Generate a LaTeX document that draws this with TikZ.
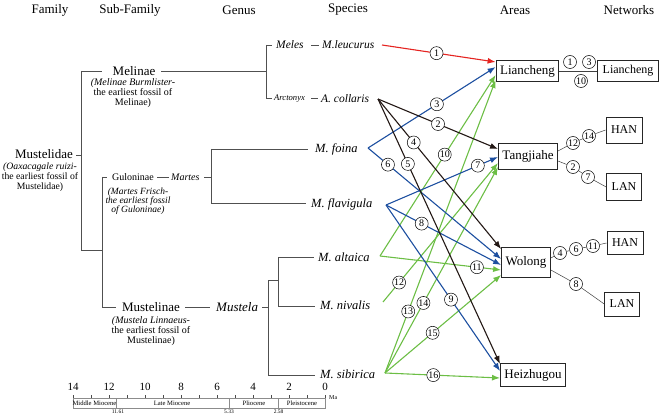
\documentclass[tikz,border=0pt]{standalone}
\usepackage{fontspec}
\setmainfont{Liberation Serif}
\usetikzlibrary{arrows.meta,calc}
\definecolor{cred}{HTML}{E52421}
\definecolor{cblue}{HTML}{1D4FA0}
\definecolor{cgreen}{HTML}{6CBE45}
\definecolor{cblack}{HTML}{231815}
\definecolor{treegray}{HTML}{505050}
\begin{document}
\begin{tikzpicture}[x=1pt,y=-1pt,
  hdr/.style={font=\fontsize{13}{15}\selectfont,inner sep=0pt},
  big/.style={font=\fontsize{13}{15}\selectfont,inner sep=0pt},
  subtxt/.style={font=\fontsize{10}{10.3}\selectfont,align=center,inner sep=0pt},
  gsub/.style={font=\fontsize{9.5}{8.8}\selectfont\itshape,align=center,inner sep=0pt},
  spc/.style={font=\fontsize{12.5}{14}\selectfont\itshape,anchor=west,inner sep=0pt},
  spm/.style={font=\fontsize{11.5}{13}\selectfont\itshape,anchor=west,inner sep=0pt},
  gen/.style={font=\fontsize{10}{12}\selectfont\itshape,anchor=west,inner sep=0pt},
  tree/.style={draw=treegray,line width=0.6pt},
  areabox/.style={draw=black!85,line width=0.9pt,font=\fontsize{13}{15}\selectfont,inner xsep=4pt,inner ysep=0pt},
  netbox/.style={draw=black!85,line width=0.9pt,font=\fontsize{12}{14}\selectfont,inner xsep=5pt,inner ysep=0pt},
  num/.style={circle,draw=black,line width=0.5pt,fill=white,inner sep=0pt,minimum size=13pt,font=\fontsize{10}{10}\selectfont},
  arr/.style={line width=1.1pt,-{Latex[length=8pt,width=6pt]}},
  net/.style={draw=black!75,line width=0.5pt},
  tnum/.style={font=\fontsize{11}{12}\selectfont,inner sep=0pt},
  per/.style={font=\fontsize{6.6}{7}\selectfont,inner sep=0pt},
  pnum/.style={font=\fontsize{5.5}{6}\selectfont,inner sep=0pt}
]
\useasboundingbox (0,0) rectangle (661,414);

% headers
\node[hdr] (hFam) at (50,10) {Family};
\node[hdr] (hSub) at (130,10) {Sub-Family};
\node[hdr] (hGen) at (239,10) {Genus};
\node[hdr] (hSpe) at (348,10) {Species};
\node[hdr] (hAre) at (515,10) {Areas};
\node[hdr] (hNet) at (629,10) {Networks};

% family
\node[big] (fam) at (44,154) {Mustelidae};
\node[font=\fontsize{9.7}{10}\selectfont,align=center,inner sep=0pt] (famsub) at (40,177.5) {\textit{(Oaxacagale ruizi-}\\the earliest fossil of\\Mustelidae)};
\coordinate (jFamTop) at (81,71);
\coordinate (jFamBot) at (81,250);
\draw[tree] (76,155) -- (81,155);
\draw[tree] (jFamTop) -- (jFamBot);

% Melinae
\node[big] (mel) at (134,71) {Melinae};
\node[subtxt] (melsub) at (133,93) {\textit{(Melinae Burmlister-}\\the earliest fossil of\\Melinae)};
\draw[tree] (jFamTop) -- (102,71);
\draw[tree] (161,71) -- (266,71);
\draw[tree] (266,45) -- (266,98);
\node[spm] (gMel) at (276,45) {Meles};
\node[spm] (spLeu) at (322,45) {M.leucurus};
\draw[tree] (266,45) -- (272,45);
\draw[tree] (311,45) -- (319,45);
\node[font=\fontsize{8.6}{10}\selectfont\itshape,anchor=west,inner sep=0pt] (gArc) at (274,99) {Arctonyx};
\node[spm] (spCol) at (321,99) {A. collaris};
\draw[tree] (266,98) -- (272,98);
\draw[tree] (311,98) -- (318,98);

% Guloninae
\coordinate (jGul) at (102,250);
\draw[tree] (jFamBot) -- (jGul);
\draw[tree] (102,177) -- (102,307);
\draw[tree] (102,177) -- (107,177);
\node[font=\fontsize{10}{12}\selectfont,anchor=west,inner sep=0pt] (gul) at (112,177) {Guloninae};
\node[gsub] (gulsub) at (138,201) {(Martes Frisch-\\the earliest fossil\\of Guloninae)};
\draw[tree] (157,177) -- (169,177);
\node[gen] (gMar) at (171,177) {Martes};
\draw[tree] (204,177) -- (211,177);
\draw[tree] (211,149) -- (211,203);
\draw[tree] (211,149) -- (308,149);
\draw[tree] (211,203) -- (306,203);
\node[spc] (spFoi) at (315,149) {M. foina};
\node[spc] (spFla) at (311,204) {M. flavigula};

% Mustelinae
\draw[tree] (102,307) -- (116,307);
\node[big] (mus) at (151,307) {Mustelinae};
\node[subtxt] (mussub) at (151,331) {\textit{(Mustela Linnaeus-}\\the earliest fossil of\\Mustelinae)};
\draw[tree] (185,307) -- (210,307);
\node[font=\fontsize{13}{15}\selectfont\itshape,anchor=west,inner sep=0pt] (gMus) at (216,307) {Mustela};
\draw[tree] (262,307) -- (268,307);
\draw[tree] (268,280) -- (268,375);
\draw[tree] (268,280) -- (278,280);
\draw[tree] (278,257) -- (278,306);
\draw[tree] (278,257) -- (314,257);
\draw[tree] (278,306) -- (315,306);
\draw[tree] (268,375) -- (315,375);
\node[spc] (spAlt) at (318,257) {M. altaica};
\node[spc] (spNiv) at (320,305) {M. nivalis};
\node[spc] (spSib) at (320,374) {M. sibirica};

% areas
\node[areabox,minimum height=21pt] (aLian) at (527.5,71) {Liancheng};
\node[areabox,minimum height=26pt] (aTang) at (528,156) {Tangjiahe};
\node[areabox,minimum height=30pt] (aWol) at (526,262) {Wolong};
\node[areabox,minimum height=23pt] (aHei) at (533,375) {Heizhugou};

% networks
\node[netbox,minimum height=21pt] (nLian) at (628,71) {Liancheng};
\node[netbox,minimum height=26pt] (nTH) at (624,130) {HAN};
\node[netbox,minimum height=27pt] (nTL) at (624,187) {LAN};
\node[netbox,minimum height=23pt] (nWH) at (625,243) {HAN};
\node[netbox,minimum height=24pt] (nWL) at (622,304) {LAN};

% species start points
\coordinate (sLeu) at (382,45);
\coordinate (sCol) at (378,99);
\coordinate (sFoi) at (368,148);
\coordinate (sFla) at (386,205);
\coordinate (sAlt) at (380,256);
\coordinate (sNiv) at (383,302);
\coordinate (sSib) at (385,373);

% connectors
\draw[arr,cred] (sLeu) -- coordinate[pos=0.48] (p1) ($(aLian.west)+(0,-9)$);
\draw[arr,cblue] (sFoi) -- coordinate[pos=0.54] (p3) ($(aLian.west)+(0,-4)$);
\draw[arr,cgreen] (sAlt) -- coordinate[pos=0.56] (p10) ($(aLian.west)+(0,4)$);
\draw[arr,cgreen] (sSib) -- coordinate[pos=0.21] (p13) ($(aLian.west)+(0,9)$);
\draw[arr,cblack] (sCol) -- coordinate[pos=0.5] (p2) ($(aTang.west)+(0,-7)$);
\draw[arr,cblue] (sFla) -- coordinate[pos=0.82] (p7) ($(aTang.west)+(0,1)$);
\draw[arr,cgreen] (sNiv) -- coordinate[pos=0.14] (p12) ($(aTang.west)+(0,7)$);
\draw[arr,cgreen] (sSib) -- coordinate[pos=0.34] (p14) ($(aTang.west)+(0,11)$);
\draw[arr,cblack] (sCol) -- coordinate[pos=0.29] (p4) ($(aWol.west)+(0,-13)$);
\draw[arr,cblue] (sFoi) -- coordinate[pos=0.15] (p6) ($(aWol.west)+(0,-3)$);
\draw[arr,cblue] (sFla) -- coordinate[pos=0.31] (p8) ($(aWol.west)+(0,3)$);
\draw[arr,cgreen] (sAlt) -- coordinate[pos=0.80] (p11) ($(aWol.west)+(0,8)$);
\draw[arr,cgreen] (sSib) -- coordinate[pos=0.41] (p15) ($(aWol.west)+(0,13)$);
\draw[arr,cblack] (sCol) -- coordinate[pos=0.245] (p5) ($(aHei.west)+(0,-11)$);
\draw[arr,cblue] (sFla) -- coordinate[pos=0.57] (p9) ($(aHei.west)+(0,-4)$);
\draw[arr,cgreen] (sSib) -- coordinate[pos=0.42] (p16) ($(aHei.west)+(0,3)$);

\foreach \p/\l in {p1/1,p2/2,p3/3,p4/4,p5/5,p6/6,p7/7,p8/8,p9/9,p10/10,p11/11,p12/12,p13/13,p14/14,p15/15,p16/16}
  \node[num] (c\p) at (\p) {\l};

% network links
\draw[net] (aLian.east) -- (nLian.west);
\node[num] (l1) at (570,62) {1};
\node[num] (l3) at (589,62) {3};
\node[num] (l10) at (581,81) {10};

\node[num] (t12) at (573,143) {12};
\node[num] (t14) at (589,136) {14};
\draw[net] ($(aTang.east)+(0,-5)$) -- (t12) -- (t14) -- (nTH.west);
\node[num] (t2) at (573,167) {2};
\node[num] (t7) at (588,177) {7};
\draw[net] ($(aTang.east)+(0,5)$) -- (t2) -- (t7) -- (nTL.west);

\node[num] (w4) at (560,253) {4};
\node[num] (w6) at (576,249) {6};
\node[num] (w11) at (593,246) {11};
\draw[net] ($(aWol.east)+(0,-4)$) -- (w4) -- (w6) -- (w11) -- (nWH.west);
\node[num] (w8) at (576,284) {8};
\draw[net] ($(aWol.east)+(0,8)$) -- (w8) -- (nWL.west);

% time scale
\draw[draw=black!70,line width=0.6pt] (73,398) -- (325,398);
\foreach \t in {0,...,14}
  \draw[draw=black!70,line width=0.5pt] ({325-18*\t},398) -- ({325-18*\t},395);
\foreach \t in {0,2,...,14}
  \node[tnum] (tn\t) at ({325-18*\t},387) {\t};
\node[font=\fontsize{6}{7}\selectfont,inner sep=0pt,anchor=west] (ma) at (329,398) {Ma};
\draw[draw=black!45,line width=0.6pt] (73,398) rectangle (325,408);
\draw[draw=black!45,line width=0.5pt] (116,398) -- (116,408);
\draw[draw=black!45,line width=0.5pt] (229,398) -- (229,408);
\draw[draw=black!45,line width=0.5pt] (278.6,398) -- (278.6,408);
\node[per] (pMM) at (94.5,403) {Middle Miocene};
\node[per] (pLM) at (172,403) {Late Miocene};
\node[per] (pPl) at (254,403) {Pliocene};
\node[per] (pPs) at (302,403) {Pleistocene};
\node[pnum] (b1) at (118,412) {11.61};
\node[pnum] (b2) at (229,412) {5.33};
\node[pnum] (b3) at (278.6,412) {2.58};
\end{tikzpicture}
\end{document}
